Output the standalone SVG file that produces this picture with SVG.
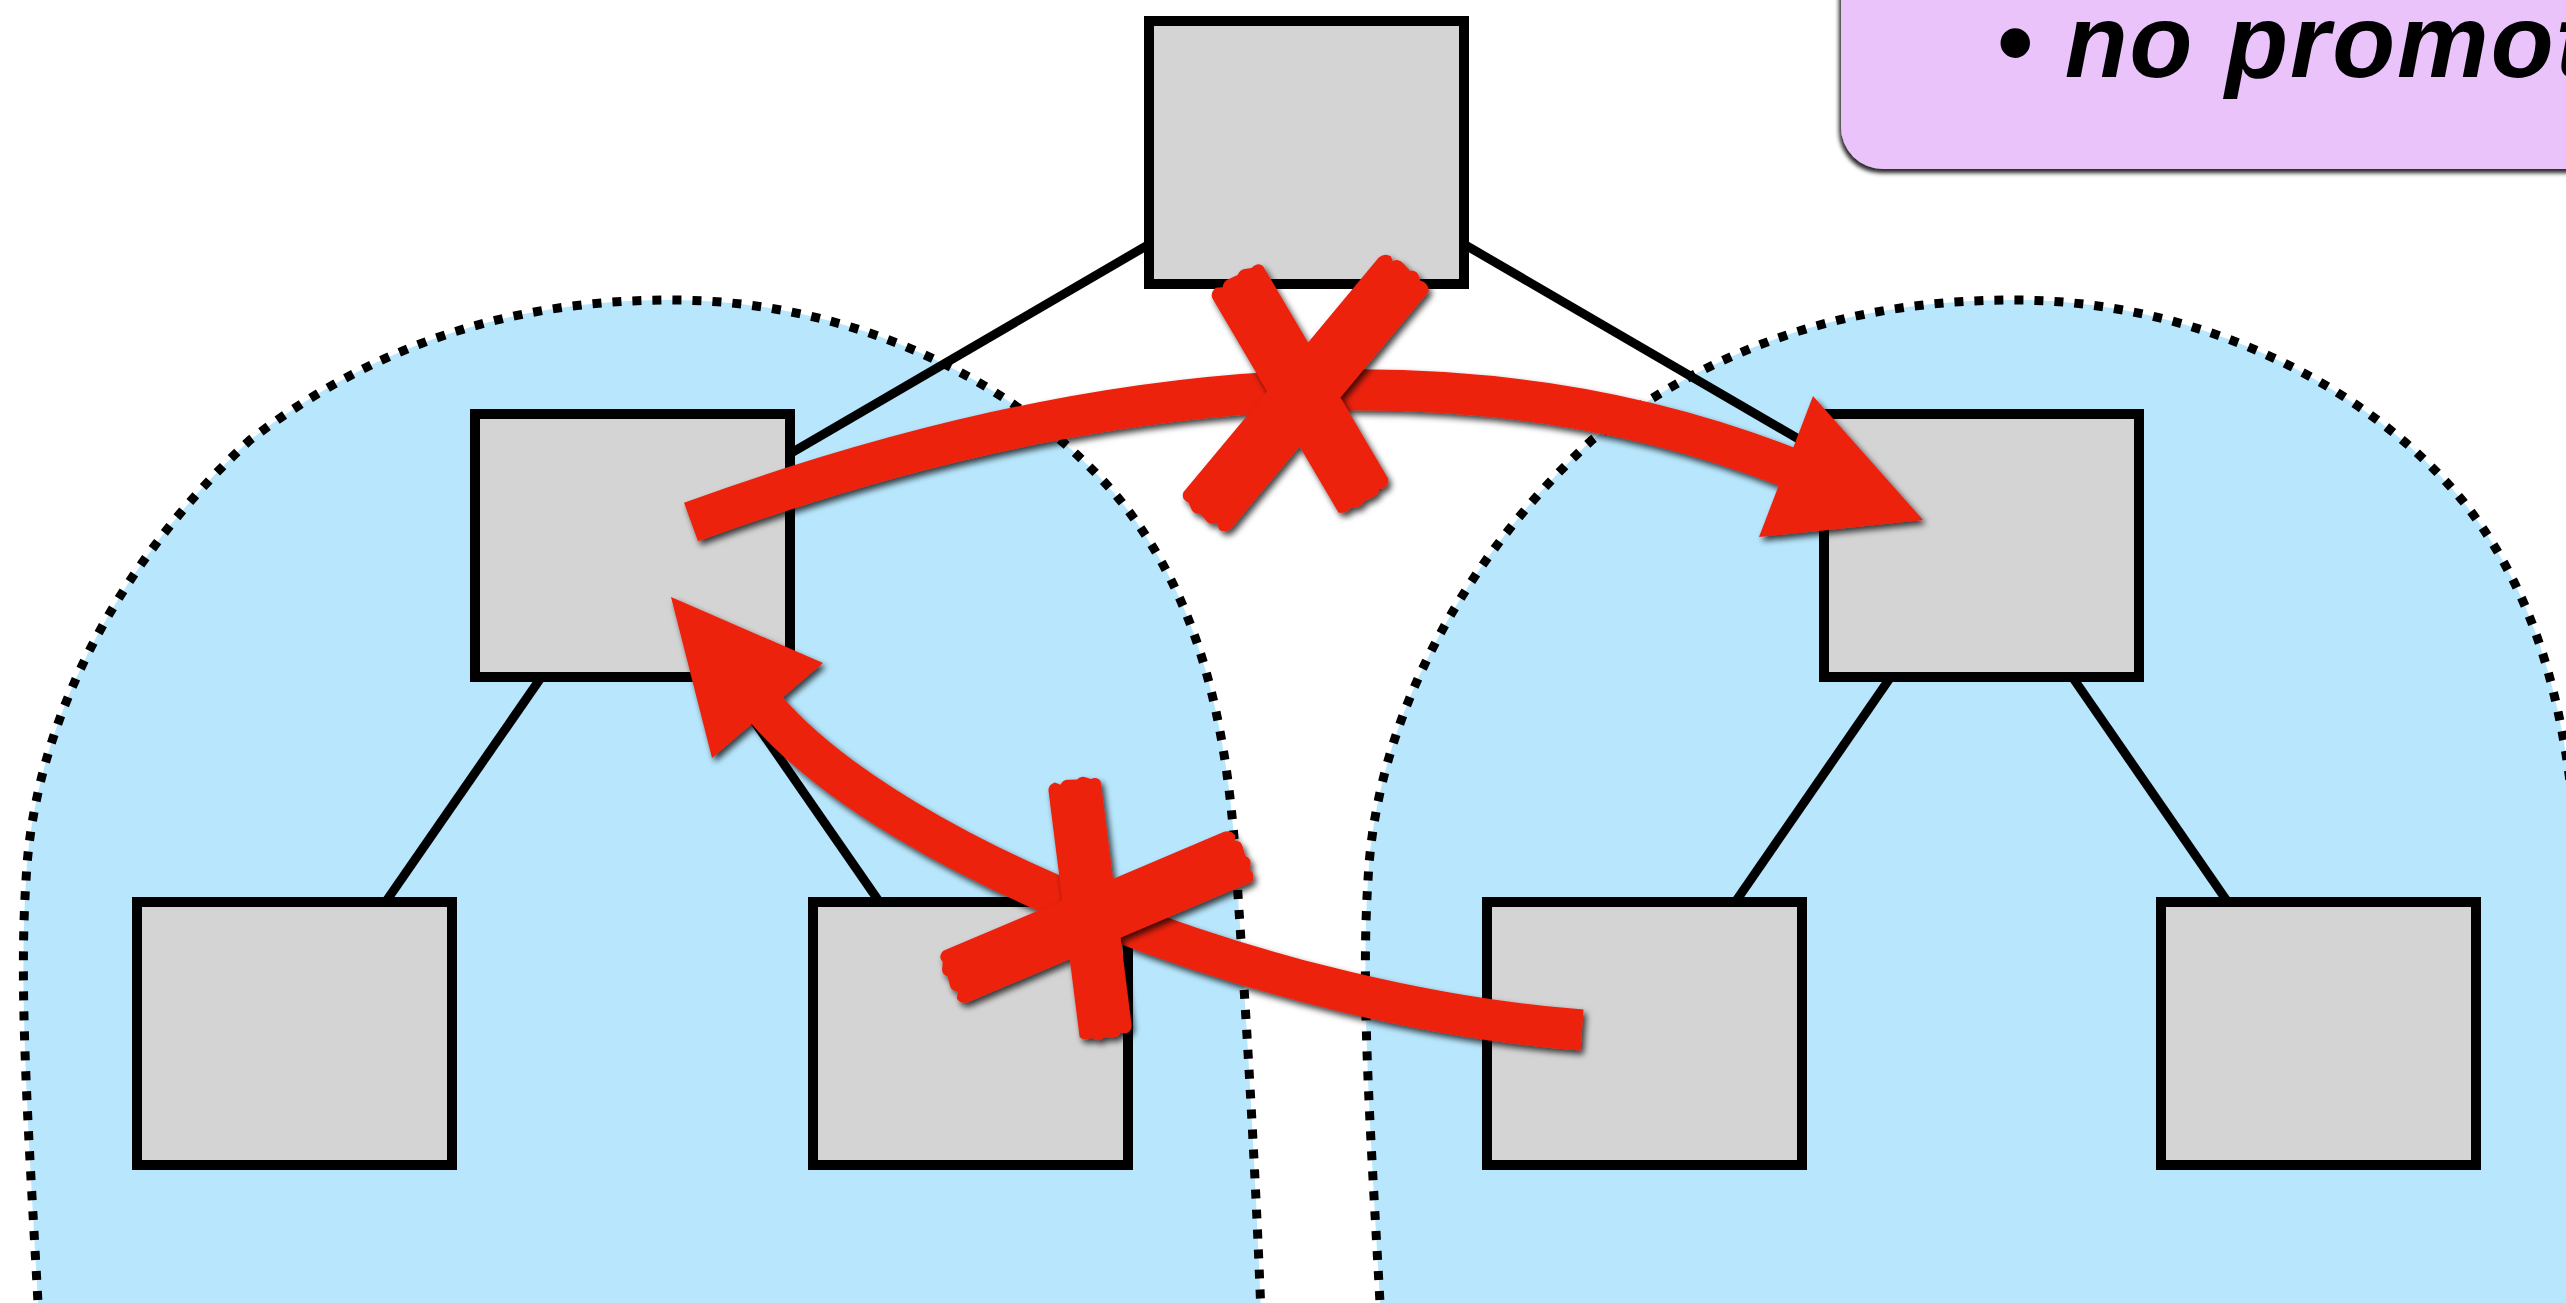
<svg xmlns="http://www.w3.org/2000/svg" width="2566" height="1303" viewBox="0 0 2566 1303">
<style>
.blob{fill:#b8e7fd;stroke:#000;stroke-width:9;stroke-dasharray:9 11}
.box{fill:#d4d4d4;stroke:#000;stroke-width:10}
.edge{stroke:#000;stroke-width:9;fill:none}
.shaft{fill:none;stroke:#ec210e;stroke-width:41}
.red{fill:#ec210e}
.note{fill:#ebc3fb}
.txt{font-family:"Liberation Sans",Arial,sans-serif;font-weight:bold;font-style:italic;font-size:103px;letter-spacing:2px;fill:#000}
</style>
<defs>
<filter id="sh" x="-20%" y="-20%" width="140%" height="140%">
<feDropShadow dx="3" dy="4" stdDeviation="3" flood-color="#000" flood-opacity="0.75"/>
</filter>
<filter id="shn" x="-10%" y="-10%" width="120%" height="130%">
<feDropShadow dx="-2" dy="4" stdDeviation="2" flood-color="#000" flood-opacity="0.85"/>
</filter>
<path id="blobshape" d="M 40 1340 C 30 1150 18 1000 26 880 C 34 720 120 560 250 440 C 380 340 520 300 671 300 C 850 300 1020 380 1120 500 C 1200 600 1225 720 1235 850 C 1245 1000 1255 1150 1262 1340 Z"/>
<path id="tape" d="M -124 -25 L -40 -25 L 40 -25 L 122 -25 Q 128 -24 129 -18 L 127 -14 Q 132 -12 131 -6 L 130 2 Q 134 6 131 11 L 129 14 Q 132 20 127 25 L -122 25 Q -128 24 -129 18 L -126 13 Q -131 10 -130 5 L -129 -3 Q -133 -7 -130 -12 L -128 -16 Q -130 -23 -124 -25 Z"/>
</defs>
<rect width="2566" height="1303" fill="#fff"/>
<g id="clusters">
<use href="#blobshape" class="blob" id="cluster-left"/>
<use href="#blobshape" class="blob" id="cluster-right" transform="translate(1342,0)"/>
</g>
<g id="note">
<rect class="note" x="1841" y="-60" width="800" height="229" rx="42" filter="url(#shn)"/>
<text class="txt" x="1996" y="77">• no promot</text>
</g>
<g id="connectors">
<line class="edge" x1="1306.5" y1="152.5" x2="632.5" y2="545.5"/>
<line class="edge" x1="1306.5" y1="152.5" x2="1981.5" y2="545.5"/>
<line class="edge" x1="632.5" y1="545.5" x2="294.5" y2="1033.5"/>
<line class="edge" x1="632.5" y1="545.5" x2="970.5" y2="1033.5"/>
<line class="edge" x1="1981.5" y1="545.5" x2="1644.5" y2="1033.5"/>
<line class="edge" x1="1981.5" y1="545.5" x2="2318.5" y2="1033.5"/>
</g>
<g id="node-root"><rect class="box" x="1149" y="21" width="315" height="263"/></g>
<g id="node-left"><rect class="box" x="475" y="414" width="315" height="263"/></g>
<g id="node-right"><rect class="box" x="1824" y="414" width="315" height="263"/></g>
<g id="node-ll"><rect class="box" x="137" y="902" width="315" height="263"/></g>
<g id="node-lr"><rect class="box" x="813" y="902" width="315" height="263"/></g>
<g id="node-rl"><rect class="box" x="1487" y="902" width="315" height="263"/></g>
<g id="node-rr"><rect class="box" x="2161" y="902" width="315" height="263"/></g>
<g id="moves">
<g id="move-top" filter="url(#sh)">
<path class="shaft" d="M 691 522 Q 1334 288 1790 468"/>
<polygon class="red" points="1813,396 1923,520 1759,537"/>
</g>
<g id="move-bottom" filter="url(#sh)">
<path class="shaft" d="M 1582 1030 C 1283 1008 896 862 764 707"/>
<polygon class="red" points="823,663 671,597 712,758"/>
</g>
<g id="cross-top" filter="url(#sh)">
<use href="#tape" class="red" transform="translate(1300,388) rotate(59.5) scale(1.0,1.2)"/>
<use href="#tape" class="red" transform="translate(1305,393) rotate(-50.2) scale(1.24,1.2)"/>
</g>
<g id="cross-bottom" filter="url(#sh)">
<use href="#tape" class="red" transform="translate(1090,908) rotate(82.8) scale(1.0,1.06)"/>
<use href="#tape" class="red" transform="translate(1096,917) rotate(-23) scale(1.24,1.14)"/>
</g>
</g>
</svg>
